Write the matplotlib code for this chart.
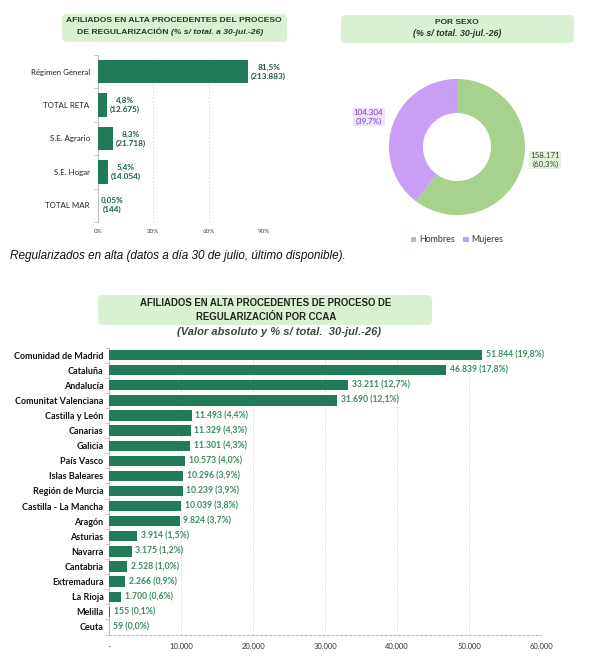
import numpy as np
import matplotlib
matplotlib.use("Agg")
import matplotlib.pyplot as plt
from matplotlib.patches import FancyBboxPatch, Patch

# Data
regimenes = ["Régimen General", "TOTAL RETA", "S.E. Agrario", "S.E. Hogar", "TOTAL MAR"]
regimen_pct = [81.5, 4.8, 8.3, 5.4, 0.05]
regimen_abs = [213883, 12675, 21718, 14054, 144]

sexos = ["Hombres", "Mujeres"]
sexo_abs = [158171, 104304]
sexo_pct = [60.3, 39.7]

regiones = ["Comunidad de Madrid", "Cataluña", "Andalucía", "Comunitat Valenciana",
            "Castilla y León", "Canarias", "Galicia", "País Vasco", "Islas Baleares",
            "Región de Murcia", "Castilla - La Mancha", "Aragón", "Asturias", "Navarra",
            "Cantabria", "Extremadura", "La Rioja", "Melilla", "Ceuta"]
region_abs = [51844, 46839, 33211, 31690, 11493, 11329, 11301, 10573, 10296,
              10239, 10039, 9824, 3914, 3175, 2528, 2266, 1700, 155, 59]
region_pct = [19.8, 17.8, 12.7, 12.1, 4.4, 4.3, 4.3, 4.0, 3.9,
              3.9, 3.8, 3.7, 1.5, 1.2, 1.0, 0.9, 0.6, 0.1, 0.0]

top_ticks = [0, 30, 60, 90]
bottom_ticks = [0, 10000, 20000, 30000, 40000, 50000, 60000]

BAR = "#217a58"
BOX = "#d9f0d2"
TITLE_C = "#263b27"
GRID = "#d6d6d6"
CAL = "Lato"
ARIAL = "Liberation Sans"

W, H = 597, 668


def es_int(v):
    return f"{v:,}".replace(",", ".")


def es_dec(v, d=1):
    return f"{v:.{d}f}".replace(".", ",")


def fx(x):
    return x / W


def fy(y):
    return 1 - y / H


def box(fig, x0, y0, x1, y1):
    # rounded box in inches so the corners stay round
    p = FancyBboxPatch((x0 / 100, (H - y1) / 100), (x1 - x0) / 100, (y1 - y0) / 100,
                       boxstyle="round,pad=0,rounding_size=0.05",
                       transform=fig.dpi_scale_trans, facecolor=BOX, edgecolor="none",
                       zorder=0)
    fig.patches.append(p)


fig = plt.figure(figsize=(W / 100, H / 100), dpi=100)

# ---------- top left: by regime ----------
box(fig, 62, 14, 287, 42)
fig.text(fx(174), fy(21), "AFILIADOS EN ALTA PROCEDENTES DEL PROCESO", ha="center", va="center",
         fontsize=6.1, fontweight="bold", family=ARIAL, color=TITLE_C)
fig.text(fx(171), fy(33), "DE REGULARIZACIÓN ", ha="right", va="center",
         fontsize=6.1, fontweight="bold", family=ARIAL, color=TITLE_C)
fig.text(fx(171), fy(33), "(% s/ total. a 30-jul.-26)", ha="left", va="center",
         fontsize=6.1, fontweight="bold", style="italic", family=ARIAL, color=TITLE_C)

ax1 = fig.add_axes([fx(98), fy(222), (264 - 98) / W, (222 - 55) / H])
y1 = np.arange(len(regimenes))
ax1.barh(y1, regimen_pct, height=0.7, color=BAR, zorder=3)
ax1.set_xlim(0, 90)
ax1.set_ylim(len(regimenes) - 0.5, -0.5)
ax1.set_yticks(y1)
ax1.set_yticklabels(regimenes, fontsize=5.7, family=CAL, color="#222222")
ax1.set_yticks(np.arange(-0.5, len(regimenes)), minor=True)
ax1.tick_params(axis="y", which="major", length=0, pad=6)
ax1.tick_params(axis="y", which="minor", length=3, color="#bfbfbf")
ax1.set_xticks(top_ticks)
ax1.set_xticklabels([f"{t}%" for t in top_ticks], fontsize=4.5, family=CAL, color="#444444")
ax1.tick_params(axis="x", length=0, pad=5)
ax1.grid(axis="x", color=GRID, linestyle=(0, (2, 2)), linewidth=0.6, zorder=0)
for s in ["top", "right", "bottom"]:
    ax1.spines[s].set_visible(False)
ax1.spines["left"].set_color("#bfbfbf")
for yy, p, a in zip(y1, regimen_pct, regimen_abs):
    txt = f"{es_dec(p, 2 if p < 1 else 1)}%\n({es_int(a)})"
    ax1.annotate(txt, (p, yy), xytext=(2, 0), textcoords="offset points", ha="left",
                 va="center", multialignment="center", fontsize=5.9, fontweight="bold",
                 family=CAL, color="#1d5e48", linespacing=1.3)

# ---------- top right: by sex ----------
box(fig, 341, 15, 574, 43)
fig.text(fx(457), fy(23), "POR SEXO", ha="center", va="center", fontsize=6.0,
         fontweight="bold", family=ARIAL, color=TITLE_C)
fig.text(fx(457), fy(34), "(% s/ total. 30-jul.-26)", ha="center", va="center", fontsize=6.4,
         fontweight="bold", style="italic", family=ARIAL, color=TITLE_C)

ax2 = fig.add_axes([fx(357), fy(247), 200 / W, 200 / H])
pie_colors = ["#a9d18e", "#c99ef5"]
ax2.pie(sexo_abs, colors=pie_colors, startangle=90, counterclock=False,
        wedgeprops=dict(width=0.5, edgecolor="none"))
ax2.set_xlim(-1.47, 1.47)
ax2.set_ylim(-1.47, 1.47)
ax2.set_aspect("equal")
ax2.text(1.3, -0.19, f"{es_int(sexo_abs[0])}\n({es_dec(sexo_pct[0])}%)", ha="center",
         va="center", fontsize=5.7, family=CAL, color="#2f4f2f", linespacing=1.3,
         bbox=dict(boxstyle="square,pad=0.15", facecolor="#e4f1dc", edgecolor="none"))
ax2.text(-1.3, 0.44, f"{es_int(sexo_abs[1])}\n({es_dec(sexo_pct[1])}%)", ha="center",
         va="center", fontsize=5.7, family=CAL, color="#7a3db0", linespacing=1.3,
         bbox=dict(boxstyle="square,pad=0.15", facecolor="#efe3fb", edgecolor="none"))
handles = [Patch(facecolor=c, edgecolor="none") for c in pie_colors]
fig.legend(handles, sexos, loc="center", bbox_to_anchor=(fx(457), fy(240)), ncol=2,
           frameon=False, prop={"family": CAL, "size": 6.4}, handlelength=0.6,
           handleheight=0.6, handletextpad=0.3, columnspacing=1.0, labelcolor="#333333")

# caption
fig.text(fx(10), fy(256), "Regularizados en alta (datos a día 30 de julio, último disponible).",
         ha="left", va="center", fontsize=8.5, style="italic", family=ARIAL, color="#111111")

# ---------- bottom: by region ----------
box(fig, 98, 295, 432, 325)
fig.text(fx(266), fy(303), "AFILIADOS EN ALTA PROCEDENTES DE PROCESO DE", ha="center",
         va="center", fontsize=6.9, fontweight="bold", family=ARIAL, color="#222222")
fig.text(fx(266), fy(317), "REGULARIZACIÓN POR CCAA", ha="center", va="center",
         fontsize=6.9, fontweight="bold", family=ARIAL, color="#222222")
fig.text(fx(279), fy(332), "(Valor absoluto y % s/ total.  30-jul.-26)", ha="center",
         va="center", fontsize=8.0, fontweight="bold", style="italic", family=ARIAL,
         color="#3b4a3b")

ax3 = fig.add_axes([fx(109), fy(634.5), (541 - 109) / W, (634.5 - 347.5) / H])
y3 = np.arange(len(regiones))
ax3.barh(y3, region_abs, height=0.68, color=BAR, zorder=3)
ax3.set_xlim(0, 60000)
ax3.set_ylim(len(regiones) - 0.5, -0.5)
ax3.set_yticks(y3)
ax3.set_yticklabels(regiones, fontsize=6.5, fontweight="bold", family=CAL, color="#111111")
ax3.set_yticks(np.arange(-0.5, len(regiones)), minor=True)
ax3.tick_params(axis="y", which="major", length=0, pad=4)
ax3.tick_params(axis="y", which="minor", length=3, color="#bfbfbf")
ax3.set_xticks(bottom_ticks)
ax3.set_xticklabels(["-" if t == 0 else es_int(t) for t in bottom_ticks], fontsize=5.5,
                    family=CAL, color="#333333")
ax3.tick_params(axis="x", length=0, pad=6)
ax3.grid(axis="x", color=GRID, linestyle=(0, (2, 2)), linewidth=0.6, zorder=0)
for s in ["top", "right"]:
    ax3.spines[s].set_visible(False)
ax3.spines["left"].set_color("#bfbfbf")
ax3.spines["bottom"].set_color("#bfbfbf")
ax3.spines["bottom"].set_linestyle((0, (2, 2)))
for yy, a, p in zip(y3, region_abs, region_pct):
    ax3.annotate(f"{es_int(a)} ({es_dec(p)}%)", (a, yy), xytext=(2.5, 0),
                 textcoords="offset points", ha="left", va="center", fontsize=6.2,
                 fontweight="bold", family=CAL, color="#3a8a60")

fig.savefig("out.png", dpi=100)
